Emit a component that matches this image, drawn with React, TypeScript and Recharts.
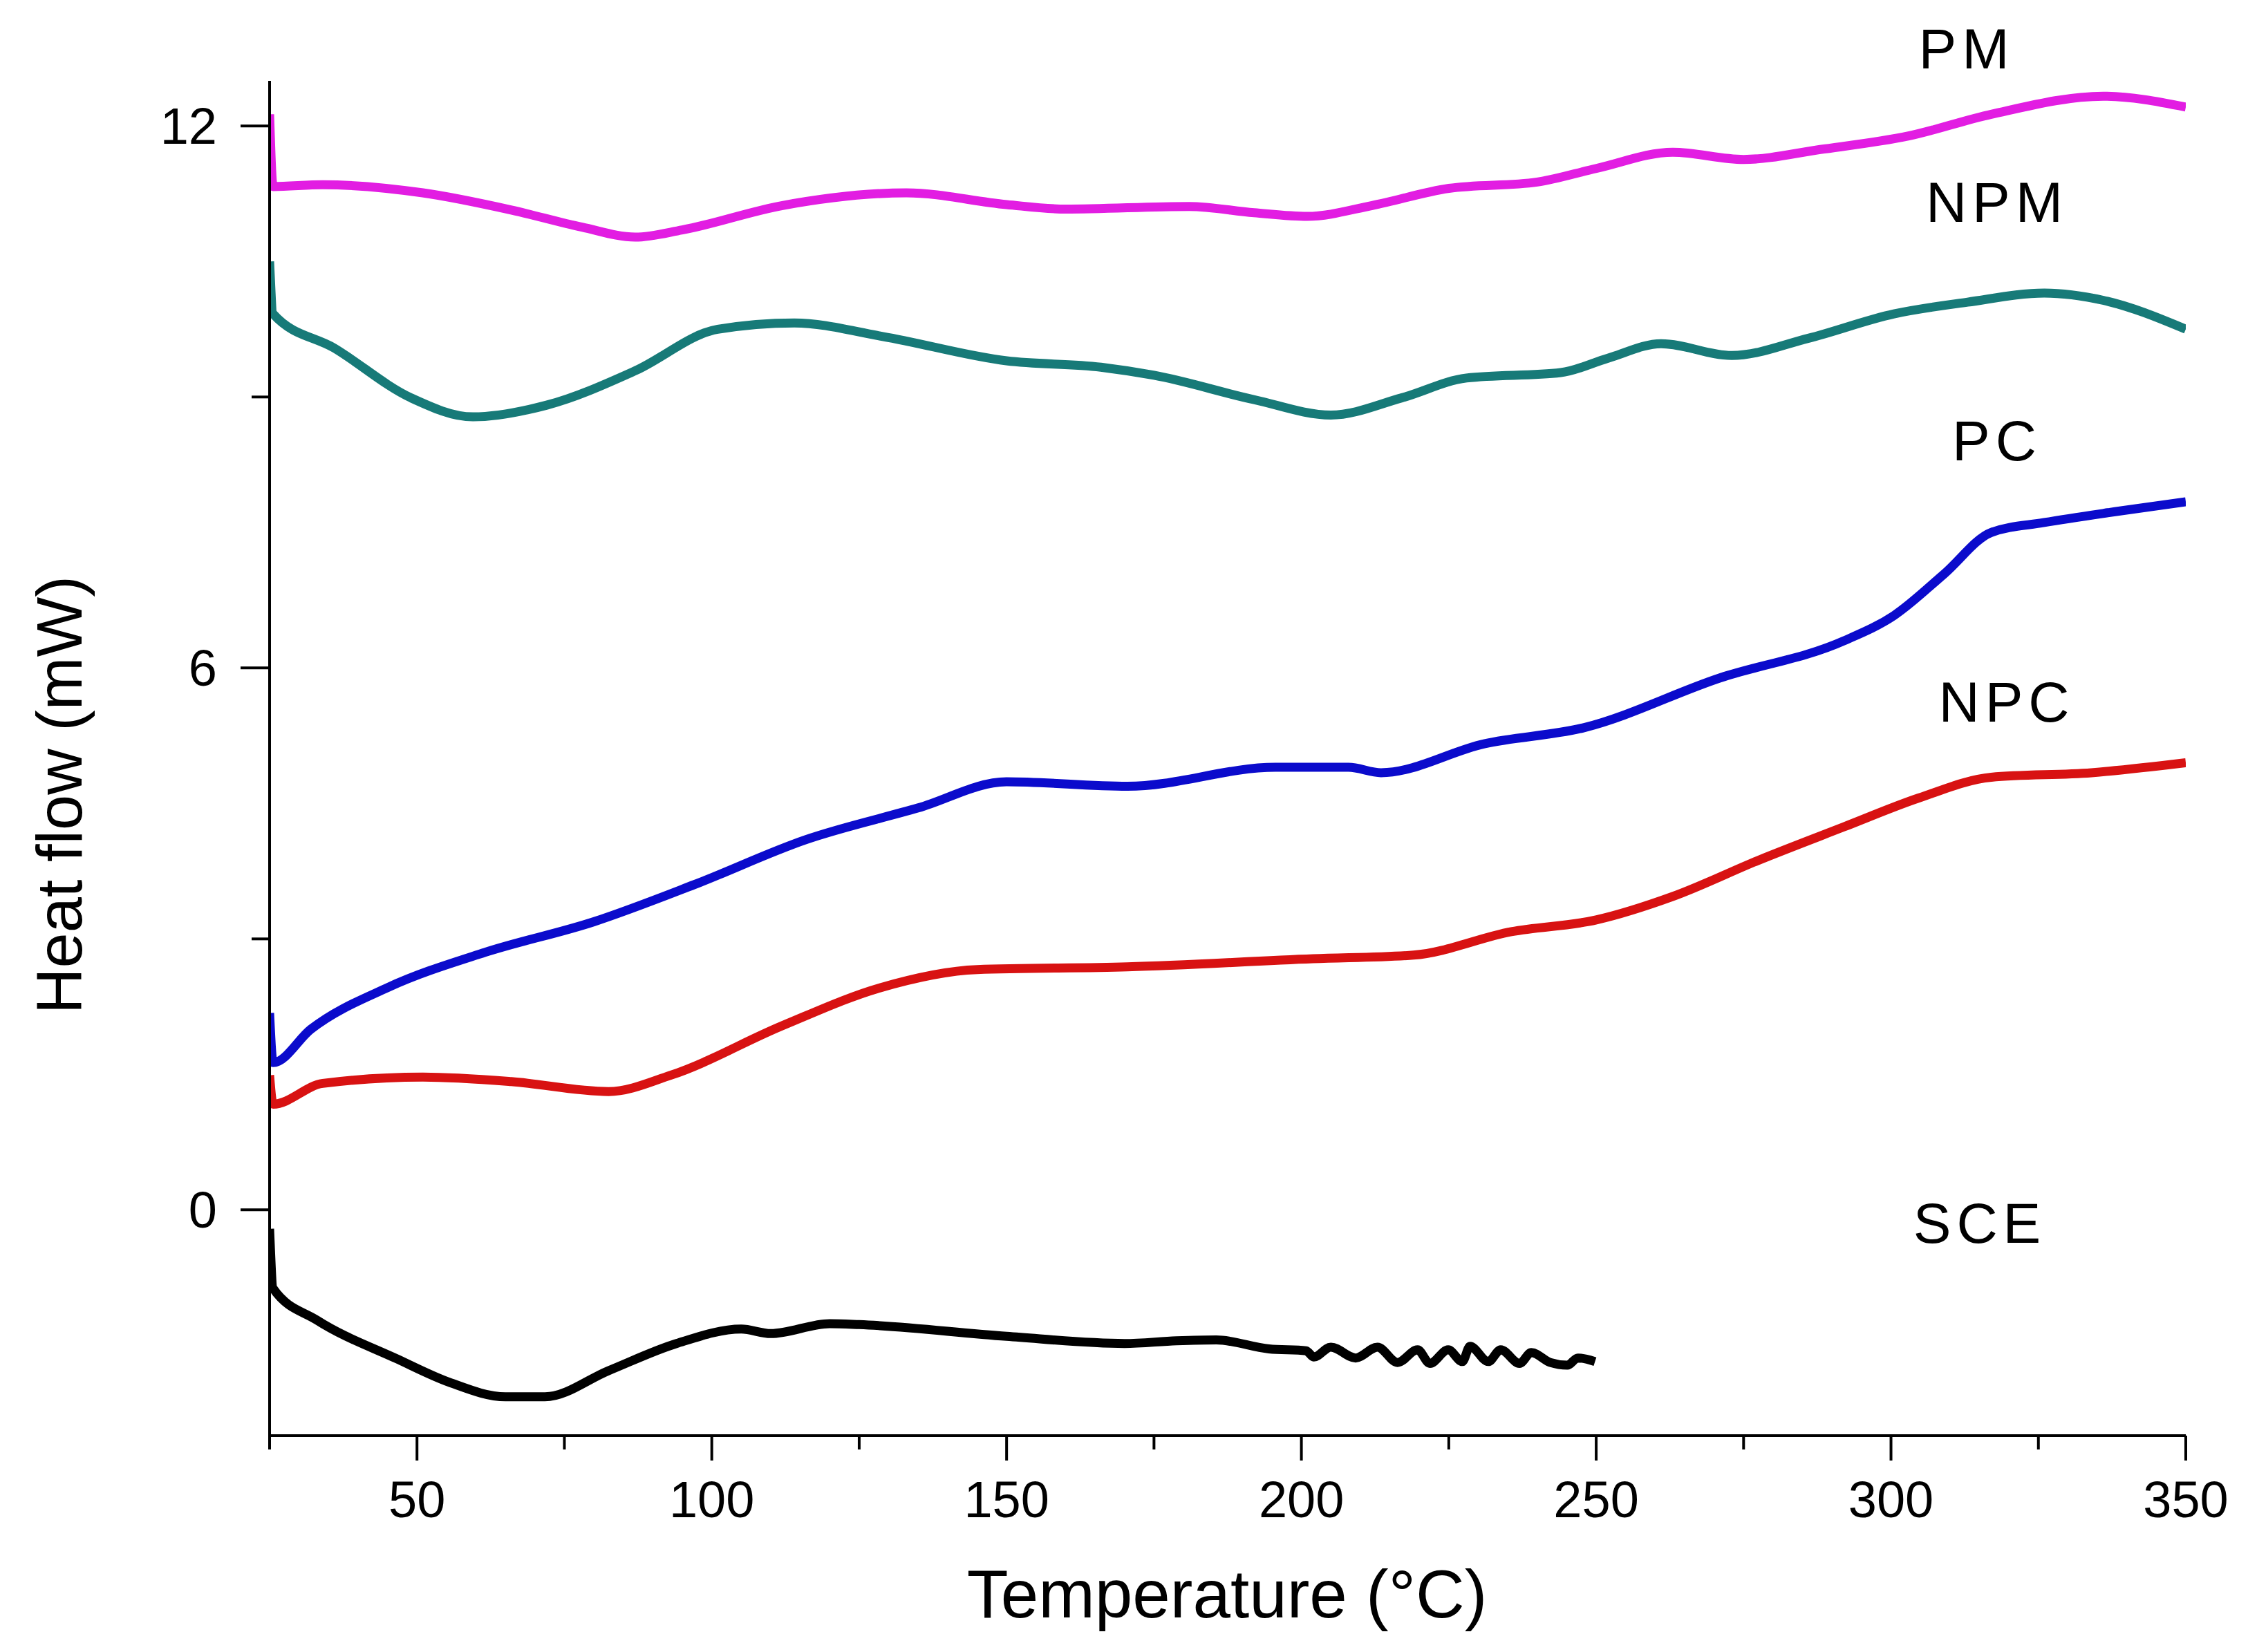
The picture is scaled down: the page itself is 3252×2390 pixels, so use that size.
import { Line, LineChart, XAxis, YAxis } from 'recharts'

const pmTemp = [25, 25.6, 34, 51, 66, 78, 87, 95, 112, 133, 150, 160, 181, 192, 201, 212, 225, 240, 250, 263, 275, 288, 303, 317, 336, 350]
const pmHeat = [12.13, 11.33, 11.35, 11.26, 11.07, 10.88, 10.77, 10.85, 11.12, 11.26, 11.13, 11.08, 11.11, 11.04, 11.0, 11.12, 11.31, 11.38, 11.53, 11.71, 11.63, 11.74, 11.89, 12.13, 12.33, 12.21]

const npmTemp = [25, 25.6, 36, 49, 59.5, 72, 87, 101, 114, 129, 150, 166, 175, 192, 205, 217, 228, 244, 252, 261, 273, 286, 300.5, 313, 326, 336, 350]
const npmHeat = [10.5, 9.92, 9.54, 8.99, 8.78, 8.91, 9.29, 9.75, 9.82, 9.67, 9.4, 9.33, 9.24, 8.97, 8.8, 8.99, 9.21, 9.27, 9.43, 9.59, 9.46, 9.65, 9.92, 10.05, 10.15, 10.07, 9.75]

const pcTemp = [25, 25.6, 32, 45, 61.5, 80, 97, 116, 135, 150, 170.5, 195.6, 208, 213.5, 231, 248, 271, 292, 300.5, 309, 317, 326, 338, 350]
const pcHeat = [2.18, 1.63, 2.0, 2.46, 2.85, 3.19, 3.6, 4.1, 4.45, 4.74, 4.69, 4.9, 4.9, 4.84, 5.16, 5.34, 5.89, 6.3, 6.58, 7.04, 7.5, 7.61, 7.73, 7.84]

const npcTemp = [25, 25.6, 34, 51, 66, 82.5, 93, 112, 128.6, 145, 170.5, 202, 219, 235.6, 250, 263, 277.5, 292, 304.7, 317, 334, 350]
const npcHeat = [1.49, 1.17, 1.4, 1.47, 1.42, 1.31, 1.49, 2.04, 2.46, 2.66, 2.69, 2.78, 2.82, 3.08, 3.21, 3.47, 3.87, 4.24, 4.56, 4.79, 4.84, 4.95]

const sceTemp = [25, 25.6, 33, 46.6, 55.5, 65, 71.7, 82.5, 94, 105, 110, 120, 125, 150, 170, 178.8, 185.6, 194.5, 200.8, 202.1, 205, 209.2, 212.9, 216.3, 219.7, 221.8, 224.9, 227.3, 228.6, 231.7, 233.8, 237, 239, 242.2, 245.1, 246.9, 249.8]
const sceHeat = [-0.21, -0.87, -1.22, -1.65, -1.91, -2.07, -2.07, -1.78, -1.48, -1.32, -1.37, -1.26, -1.27, -1.4, -1.48, -1.45, -1.44, -1.54, -1.56, -1.63, -1.52, -1.64, -1.52, -1.69, -1.55, -1.7, -1.55, -1.68, -1.51, -1.68, -1.55, -1.7, -1.58, -1.69, -1.72, -1.64, -1.68]

const xTicks = [25, 50, 75, 100, 125, 150, 175, 200, 225, 250, 275, 300, 325, 350]
const yTicks = [0, 3, 6, 9, 12]

const seriesLabels = ['PM', 'NPM', 'PC', 'NPC', 'SCE']

const font = '"Liberation Sans", Arial, sans-serif'

function toPoints(temps: number[], values: number[]) {
  return temps.map((t, i) => ({ t, v: values[i] }))
}

const series = [
  { name: 'PM', color: '#e21de2', data: toPoints(pmTemp, pmHeat) },
  { name: 'NPM', color: '#177a78', data: toPoints(npmTemp, npmHeat) },
  { name: 'PC', color: '#0b0bcc', data: toPoints(pcTemp, pcHeat) },
  { name: 'NPC', color: '#d81212', data: toPoints(npcTemp, npcHeat) },
  { name: 'SCE', color: '#000000', data: toPoints(sceTemp, sceHeat) },
]

// label placement (center x, baseline y) in page pixels
const labelPos: Record<string, [number, number]> = {
  PM: [2845, 99],
  NPM: [2889, 321],
  PC: [2889, 666],
  NPC: [2903, 1044],
  SCE: [2864, 1798],
}

function XTick(props: any) {
  const { x, y, payload } = props
  const major = payload.value % 50 === 0
  return (
    <g>
      <line x1={x} y1={y} x2={x} y2={y + (major ? 36 : 20)} stroke="#000" strokeWidth={4} />
      {major && (
        <text x={x} y={y + 118} textAnchor="middle" fontSize={74} fontFamily={font} fill="#000">
          {payload.value}
        </text>
      )}
    </g>
  )
}

function YTick(props: any) {
  const { x, y, payload } = props
  const major = payload.value % 6 === 0
  return (
    <g>
      <line x1={x} y1={y} x2={x - (major ? 42 : 26)} y2={y} stroke="#000" strokeWidth={4} />
      {major && (
        <text x={x - 76} y={y + 26} textAnchor="end" fontSize={74} fontFamily={font} fill="#000">
          {payload.value}
        </text>
      )}
    </g>
  )
}

export default function App() {
  return (
    <div style={{ position: 'relative', width: 3252, height: 2390, background: '#fff' }}>
      <style>{'body{margin:0}'}</style>
      <LineChart width={3252} height={2390} margin={{ top: 117, right: 90, left: 0, bottom: 0 }}>
        <XAxis
          type="number"
          dataKey="t"
          domain={[25, 350]}
          ticks={xTicks}
          interval={0}
          height={313}
          tickSize={0}
          tickMargin={0}
          tickLine={false}
          tick={<XTick />}
          axisLine={{ stroke: '#000', strokeWidth: 4 }}
          allowDataOverflow
        />
        <YAxis
          type="number"
          domain={[-2.5, 12.5]}
          ticks={yTicks}
          interval={0}
          width={390}
          tickSize={0}
          tickMargin={0}
          tickLine={false}
          tick={<YTick />}
          axisLine={{ stroke: '#000', strokeWidth: 4 }}
          allowDataOverflow
        />
        {series.map(s => (
          <Line
            key={s.name}
            data={s.data}
            dataKey="v"
            type="monotone"
            stroke={s.color}
            strokeWidth={13}
            strokeLinejoin="round"
            dot={false}
            activeDot={false}
            isAnimationActive={false}
          />
        ))}
      </LineChart>
      <svg width={3252} height={2390} style={{ position: 'absolute', left: 0, top: 0, pointerEvents: 'none' }}>
        {seriesLabels.map(name => (
          <text
            key={name}
            x={labelPos[name][0]}
            y={labelPos[name][1]}
            textAnchor="middle"
            fontSize={82}
            letterSpacing={8}
            fontFamily={font}
            fill="#000"
          >
            {name}
          </text>
        ))}
        <text x={1775} y={2340} textAnchor="middle" fontSize={98} fontFamily={font} fill="#000">
          Temperature (°C)
        </text>
        <text
          x={118}
          y={1150}
          transform="rotate(-90 118 1150)"
          textAnchor="middle"
          fontSize={92}
          fontFamily={font}
          fill="#000"
        >
          Heat flow (mW)
        </text>
      </svg>
    </div>
  )
}
